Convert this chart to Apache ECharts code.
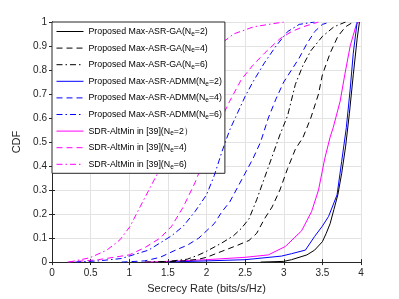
<!DOCTYPE html>
<html><head><meta charset="utf-8">
<script src="https://cdn.jsdelivr.net/npm/echarts@6/dist/echarts.min.js"></script>
<style>html,body{margin:0;padding:0;background:#fff}#c{width:399px;height:299px}</style>
</head><body><div id="c"></div>
<script>
var xTicks = [0, 0.5, 1, 1.5, 2, 2.5, 3, 3.5, 4];
var yTicks = [0, 0.1, 0.2, 0.3, 0.4, 0.5, 0.6, 0.7, 0.8, 0.9, 1];
var seriesNames = [
  'Proposed Max-ASR-GA(Ne=2)', 'Proposed Max-ASR-GA(Ne=4)', 'Proposed Max-ASR-GA(Ne=6)',
  'Proposed Max-ASR-ADMM(Ne=2)', 'Proposed Max-ASR-ADMM(Ne=4)', 'Proposed Max-ASR-ADMM(Ne=6)',
  'SDR-AltMin in [39](Ne=2）', 'SDR-AltMin in [39](Ne=4)', 'SDR-AltMin in [39](Ne=6)'
];
var gaNe2 = [[2.7,0],[3.0,0.003],[3.1,0.01],[3.3,0.03],[3.4,0.05],[3.5,0.085],[3.55,0.12],[3.6,0.16],[3.65,0.22],[3.7,0.28],[3.75,0.37],[3.8,0.48],[3.85,0.62],[3.9,0.78],[3.95,0.93],[3.98,1.0]];
var gaNe4 = [[1.4,0],[1.7,0.005],[1.9,0.012],[2.0,0.02],[2.2,0.045],[2.4,0.07],[2.55,0.09],[2.65,0.12],[2.75,0.18],[2.85,0.23],[2.95,0.30],[3.05,0.39],[3.15,0.47],[3.25,0.52],[3.35,0.6],[3.45,0.7],[3.5,0.78],[3.6,0.87],[3.7,0.94],[3.8,0.98],[3.9,1.0]];
var gaNe6 = [[1.2,0],[1.5,0.003],[1.75,0.012],[1.9,0.03],[2.0,0.045],[2.2,0.08],[2.35,0.11],[2.45,0.14],[2.55,0.18],[2.65,0.26],[2.75,0.35],[2.85,0.44],[2.95,0.53],[3.05,0.61],[3.15,0.74],[3.25,0.82],[3.35,0.88],[3.5,0.94],[3.65,0.98],[3.8,1.0]];
var admmNe2 = [[1.5,0],[2.0,0.005],[2.5,0.01],[2.97,0.025],[3.1,0.035],[3.28,0.05],[3.4,0.107],[3.5,0.15],[3.58,0.19],[3.69,0.28],[3.75,0.42],[3.81,0.56],[3.86,0.72],[3.9,0.87],[3.95,1.0]];
var admmNe4 = [[0.9,0],[1.2,0.005],[1.4,0.02],[1.6,0.05],[1.75,0.07],[1.9,0.1],[2.0,0.13],[2.1,0.16],[2.2,0.21],[2.3,0.25],[2.4,0.31],[2.5,0.37],[2.6,0.43],[2.7,0.5],[2.8,0.6],[2.9,0.68],[3.0,0.75],[3.1,0.8],[3.2,0.85],[3.3,0.91],[3.4,0.96],[3.5,0.99],[3.6,1.0]];
var admmNe6 = [[0.3,0],[0.6,0.005],[0.9,0.015],[1.1,0.035],[1.25,0.05],[1.4,0.08],[1.55,0.11],[1.7,0.15],[1.85,0.21],[2.0,0.28],[2.1,0.36],[2.2,0.46],[2.3,0.55],[2.4,0.62],[2.5,0.69],[2.6,0.75],[2.75,0.83],[2.9,0.9],[3.05,0.96],[3.2,0.99],[3.4,1.0]];
var sdrNe2 = [[1.2,0],[1.5,0.003],[2.0,0.01],[2.5,0.02],[2.8,0.03],[3.02,0.065],[3.23,0.13],[3.36,0.21],[3.45,0.30],[3.53,0.43],[3.6,0.52],[3.64,0.56],[3.73,0.67],[3.79,0.78],[3.86,0.90],[3.94,0.99],[3.97,1.0]];
var sdrNe4 = [[0.2,0],[0.6,0.01],[1.0,0.03],[1.2,0.06],[1.4,0.1],[1.55,0.15],[1.7,0.23],[1.85,0.33],[1.95,0.41],[2.05,0.49],[2.15,0.57],[2.3,0.67],[2.45,0.76],[2.6,0.82],[2.75,0.87],[2.95,0.93],[3.1,0.96],[3.25,0.98],[3.45,1.0]];
var sdrNe6 = [[0.22,0],[0.49,0.018],[0.71,0.05],[0.88,0.093],[1.01,0.148],[1.14,0.23],[1.27,0.31],[1.4,0.39],[1.5,0.47],[1.6,0.58],[1.7,0.68],[1.8,0.76],[1.92,0.83],[2.09,0.885],[2.35,0.95],[2.61,0.98],[3.0,1.0]];

var dataList = [gaNe2, gaNe4, gaNe6, admmNe2, admmNe4, admmNe6, sdrNe2, sdrNe4, sdrNe6];
var colors = ['#000000','#000000','#000000','#0000ff','#0000ff','#0000ff','#ff00ff','#ff00ff','#ff00ff'];
var dashes = ['solid',[6,4],[6,3,1.5,3],'solid',[6,4],[6,3,1.5,3],'solid',[6,4],[6,3,1.5,3]];

var chart = echarts.init(document.getElementById('c'), null, {renderer:'canvas'});
var series = dataList.map(function(d, i){
  return {name: seriesNames[i], type:'line', data:d, showSymbol:false, symbol:'none',
    lineStyle:{color:colors[i], width:1, type:dashes[i]}, itemStyle:{color:colors[i]},
    xAxisIndex:0, yAxisIndex:0, animation:false, z: 10 - i};
});
var axisCol = '#262626';
chart.setOption({
  animation:false,
  backgroundColor:'#ffffff',
  textStyle:{fontFamily:'Liberation Sans, Arial, sans-serif'},
  grid:{left:52, right:38, top:22, bottom:33},
  legend:{
    left:52, top:22, orient:'vertical',
    backgroundColor:'#ffffff', borderColor:'#262626', borderWidth:1,
    padding:[5,3,3,4], itemWidth:27, itemHeight:10, itemGap:6.1,
    itemStyle:{opacity:0},
    lineStyle:{width:1},
    data: seriesNames,
    textStyle:{fontSize:8.8, color:'#000', fontFamily:'Liberation Sans, Arial, sans-serif',
      rich:{sub:{fontSize:6.5, padding:[5,0,0,0], color:'#000'}}},
    formatter:function(n){ return n.replace('Ne=', 'N{sub|e}='); }
  },
  xAxis:[{
    type:'value', min:0, max:4, interval:0.5,
    axisLine:{show:true, lineStyle:{color:axisCol, width:1}},
    axisTick:{show:true, inside:true, length:3, lineStyle:{color:axisCol}},
    axisLabel:{fontSize:10, color:axisCol, margin:6},
    splitLine:{show:true, lineStyle:{color:'#e3e3e3', width:1}},
    name:'Secrecy Rate (bits/s/Hz)', nameLocation:'middle', nameGap:20,
    nameTextStyle:{fontSize:11, color:axisCol}
  },{
    type:'value', min:0, max:4, interval:0.5, position:'top',
    axisLine:{show:true, lineStyle:{color:axisCol, width:1}},
    axisTick:{show:true, inside:true, length:3, lineStyle:{color:axisCol}},
    axisLabel:{show:false}, splitLine:{show:false}
  }],
  yAxis:[{
    type:'value', min:0, max:1, interval:0.1,
    axisLine:{show:true, lineStyle:{color:axisCol, width:1}},
    axisTick:{show:true, inside:true, length:3, lineStyle:{color:axisCol}},
    axisLabel:{fontSize:10, color:axisCol, margin:5},
    splitLine:{show:true, lineStyle:{color:'#e3e3e3', width:1}},
    name:'CDF', nameLocation:'middle', nameGap:24, nameRotate:90,
    nameTextStyle:{fontSize:11, color:axisCol}
  },{
    type:'value', min:0, max:1, interval:0.1, position:'right',
    axisLine:{show:true, lineStyle:{color:axisCol, width:1}},
    axisTick:{show:true, inside:true, length:3, lineStyle:{color:axisCol}},
    axisLabel:{show:false}, splitLine:{show:false}
  }],
  series: series
});
</script></body></html>
